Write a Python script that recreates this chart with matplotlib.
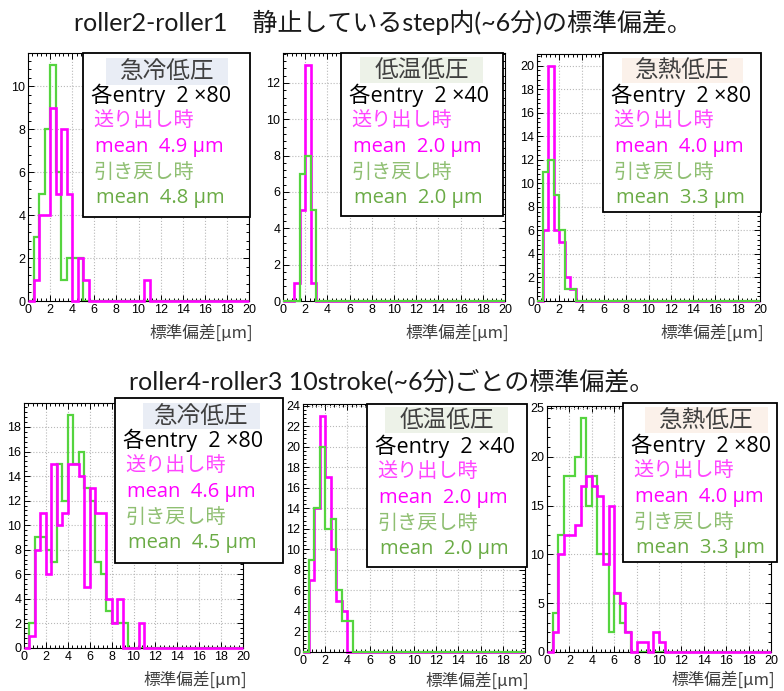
import numpy as np
import matplotlib.pyplot as plt
from matplotlib.patches import Rectangle
from matplotlib.ticker import MultipleLocator

W, H = 784, 691
edges = np.arange(0, 20.5, 0.5)   # 40 bins of 0.5 um

# bin contents from 0 um upward (0.5 um bins); later bins are empty
okuri_a = [0, 1, 4, 4, 9, 5, 8, 5, 0, 2, 1, 0, 0, 0, 0, 0, 0, 0, 0, 0, 0, 1]
modoshi_a = [0, 3, 5, 8, 11, 6, 1, 2, 2, 2]
okuri_b = [0, 0, 1, 5, 13, 1]
modoshi_b = [0, 0, 0, 7, 8, 5]
okuri_c = [0, 6, 20, 6, 5, 2, 1]
modoshi_c = [0, 11, 12, 9, 6, 1, 1]
okuri_d = [0, 1, 8, 11, 6, 15, 10, 11, 15, 15, 14, 5, 13, 11, 11, 4, 2, 4, 0, 0, 0, 2]
modoshi_d = [0, 2, 9, 9, 8, 7, 15, 12, 19, 15, 16, 13, 12, 7, 6, 3, 2, 2, 2]
okuri_e = [0, 7, 14, 23, 17, 10, 5, 4]
modoshi_e = [0, 9, 14, 20, 12, 13, 6, 3, 3]
okuri_f = [0, 2, 10, 12, 12, 13, 17, 18, 17, 16, 9, 15, 6, 5, 2, 0, 1, 1, 0, 2, 1]
modoshi_f = [0, 4, 12, 18, 18, 20, 24, 15, 18, 10, 10, 2, 6, 3, 2]

conditions = ["急冷低圧", "低温低圧", "急熱低圧", "急冷低圧", "低温低圧", "急熱低圧"]
entries = ["80", "40", "80", "80", "40", "80"]
mean_okuri = ["4.9", "2.0", "4.0", "4.6", "2.0", "4.0"]
mean_modoshi = ["4.8", "2.0", "3.3", "4.5", "2.0", "3.3"]
title_top = "roller2-roller1\u3000静止しているstep内(~6分)の標準偏差。"
title_bottom = "roller4-roller3 10stroke(~6分)ごとの標準偏差。"

okuri = [okuri_a, okuri_b, okuri_c, okuri_d, okuri_e, okuri_f]
modoshi = [modoshi_a, modoshi_b, modoshi_c, modoshi_d, modoshi_e, modoshi_f]

# layout in pixels (x0, y0, x1, y1)
axes_px = [(28, 53, 249, 301), (283, 53, 505, 301), (537, 54, 760, 301),
           (24, 403, 243, 648), (303, 404, 525, 652), (547, 406, 771, 652)]
box_px = [(83, 53, 250, 217), (341, 53, 503, 216), (603, 53, 761, 212),
          (115, 398, 283, 563), (367, 404, 527, 567), (623, 403, 777, 562)]
head_px = [(106, 58, 228, 85), (360, 57, 483, 83), (622, 58, 743, 83),
           (143, 403, 260, 429), (385, 407, 508, 433), (645, 407, 768, 433)]
xlab_y = [333, 333, 333, 680, 681, 680]
head_col = ["#e9edf5", "#edf2e8", "#fbf1ea"] * 2
magenta_top = [True, False, False, True, False, True]
ystep = [2, 2, 2, 2, 2, 5]

MAG = "#ff00ff"
GRN = "#55d43f"
JP = ["Noto Sans CJK JP", "DejaVu Sans"]
LAT = ["Open Sans", "Noto Sans CJK JP", "DejaVu Sans"]

fig = plt.figure(figsize=(W / 100, H / 100), dpi=100)


def frac(x0, y0, x1, y1):
    return [x0 / W, 1 - y1 / H, (x1 - x0) / W, (y1 - y0) / H]


for i in range(6):
    ax = fig.add_axes(frac(*axes_px[i]))
    m = np.pad(okuri[i], (0, 40 - len(okuri[i])))
    g = np.pad(modoshi[i], (0, 40 - len(modoshi[i])))
    zm, zg = (3, 2) if magenta_top[i] else (2, 3)
    ax.stairs(g, edges, color=GRN, lw=1.6, zorder=zg, clip_on=False)
    ax.stairs(m, edges, color=MAG, lw=1.9, zorder=zm, clip_on=False)
    ax.set_xlim(0, 20)
    ax.set_ylim(0, 1.05 * max(m.max(), g.max()))
    ax.xaxis.set_major_locator(MultipleLocator(2))
    ax.xaxis.set_minor_locator(MultipleLocator(0.4))
    ax.yaxis.set_major_locator(MultipleLocator(ystep[i]))
    ax.yaxis.set_minor_locator(MultipleLocator(ystep[i] / 5))
    ax.tick_params(which="both", direction="in", top=True, right=True,
                   width=0.7, labelsize=9, pad=2)
    ax.tick_params(which="major", length=4.5)
    ax.tick_params(which="minor", length=2.2)
    for lab in ax.get_xticklabels() + ax.get_yticklabels():
        lab.set_family("Liberation Sans")
    ax.grid(True, which="major", color="#b8b8b8", ls=":", lw=0.8)
    ax.set_axisbelow(True)
    for s in ax.spines.values():
        s.set_linewidth(0.8)

ov = fig.add_axes([0, 0, 1, 1])
ov.set_xlim(0, W)
ov.set_ylim(H, 0)
ov.axis("off")

ov.text(383, 22, title_top, ha="center", va="center", fontsize=18,
        family=["Lato", "Noto Sans CJK JP"], color="#1a1a1a")
ov.text(392, 381, title_bottom, ha="center", va="center", fontsize=18,
        family=["Lato", "Noto Sans CJK JP"], color="#1a1a1a")

for i in range(6):
    x0, y0, x1, y1 = box_px[i]
    ov.add_patch(Rectangle((x0, y0), x1 - x0, y1 - y0, fc="white",
                           ec="black", lw=1.3))
    hx0, hy0, hx1, hy1 = head_px[i]
    ov.add_patch(Rectangle((hx0, hy0), hx1 - hx0, hy1 - hy0,
                           fc=head_col[i], ec="none"))
    ov.text((hx0 + hx1) / 2, (hy0 + hy1) / 2, conditions[i], ha="center",
            va="center", fontsize=17, family=JP, color="#404040")
    lx = x0 + 8
    top = y0 + 42
    ov.text(lx, top, "各entry  2 \u00d7" + entries[i], ha="left",
            va="center", fontsize=15.5, family=LAT, color="black")
    ov.text(lx + 2, top + 25, "送り出し時", ha="left", va="center",
            fontsize=14.5, family=JP, color="#ff44ff")
    ov.text(lx + 4, top + 52, "mean  " + mean_okuri[i] + " µm", ha="left",
            va="center", fontsize=14.5, family=LAT, color=MAG)
    ov.text(lx + 3, top + 77, "引き戻し時", ha="left", va="center",
            fontsize=14.5, family=JP, color="#8fbf72")
    ov.text(lx + 5, top + 103, "mean  " + mean_modoshi[i] + " µm",
            ha="left", va="center", fontsize=14.5, family=LAT,
            color="#6aab45")
    ov.text(axes_px[i][2] + 4, xlab_y[i], "標準偏差[µm]", ha="right",
            va="center", fontsize=12, family=JP, color="#404040")

fig.savefig("out.png", dpi=100)
